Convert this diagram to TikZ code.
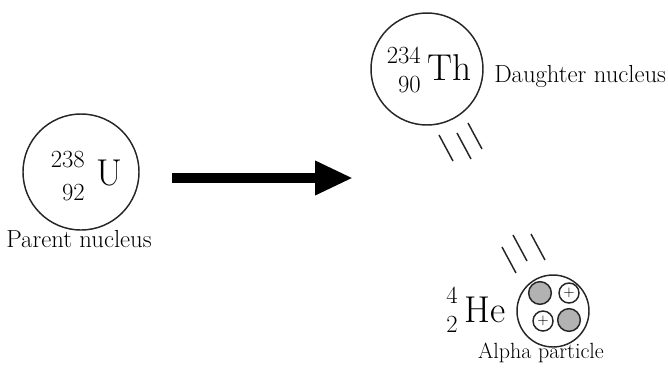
\documentclass[tikz,border=0pt]{standalone}
\usetikzlibrary{arrows.meta}
\begin{document}
\begin{tikzpicture}[x=0.75pt, y=-0.75pt,
  nucleus/.style={circle, draw=black!85, line width=1.1pt, inner sep=0pt},
  neutron/.style={circle, draw=black!85, line width=1.1pt, fill=black!30, minimum size=17pt, inner sep=0pt},
  proton/.style={circle, draw=black!85, line width=1.1pt, minimum size=15pt, inner sep=0pt, font=\fontsize{11}{11}\selectfont},
  sym/.style={font=\fontsize{28}{30}\selectfont, inner sep=0pt, anchor=base west},
  num/.style={font=\fontsize{18.5}{20}\selectfont, inner sep=0pt, anchor=base east},
  lbl/.style={font=\fontsize{18.5}{20}\selectfont, inner sep=0pt},
  trail/.style={line width=1.1pt, black!85}]
\useasboundingbox (0,0) rectangle (668,369);
% parent nucleus
\node[nucleus, minimum size=87pt] (parent) at (81,172) {};
\node[num] (parA) at (85,167) {238};
\node[num] (parZ) at (85,200) {92};
\node[sym] (parU) at (96,185) {U};
\node[lbl, anchor=base] (parlbl) at (79,247) {Parent nucleus};
% decay arrow
\coordinate (decayfrom) at (172,178);
\coordinate (decayto) at (353,178);
\draw[line width=7.5pt, -{Triangle[length=28.5pt,width=24pt]}] (decayfrom) -- (decayto);
% daughter nucleus
\node[nucleus, minimum size=84pt] (daughter) at (427,69) {};
\node[num] (dauA) at (421,63) {234};
\node[num] (dauZ) at (421,92) {90};
\node[sym] (dauTh) at (427,80) {Th};
\node[lbl, anchor=base west] (daulbl) at (494,82) {Daughter nucleus};
% recoil trails
\foreach \x/\y in {439/135,457/133,468/123} \draw[trail] (\x,\y) -- ++(14,26);
\foreach \x/\y in {502/247,513/235,531/234} \draw[trail] (\x,\y) -- ++(14,26);
% alpha particle
\node[nucleus, minimum size=54pt] (alpha) at (553,311) {};
\foreach \n/\x/\y in {n1/540/293,n2/569/320} \node[neutron] (\n) at (\x,\y) {};
\foreach \n/\x/\y in {p1/569/293,p2/543/321} \node[proton] (\n) at (\x,\y) {$+$};
\node[num] (heA) at (458,303) {4};
\node[num] (heZ) at (458,332) {2};
\node[sym] (heHe) at (464,322) {He};
\node[lbl, anchor=base, font=\fontsize{16.5}{18}\selectfont] (alphalbl) at (541,358) {Alpha particle};
\end{tikzpicture}
\end{document}
